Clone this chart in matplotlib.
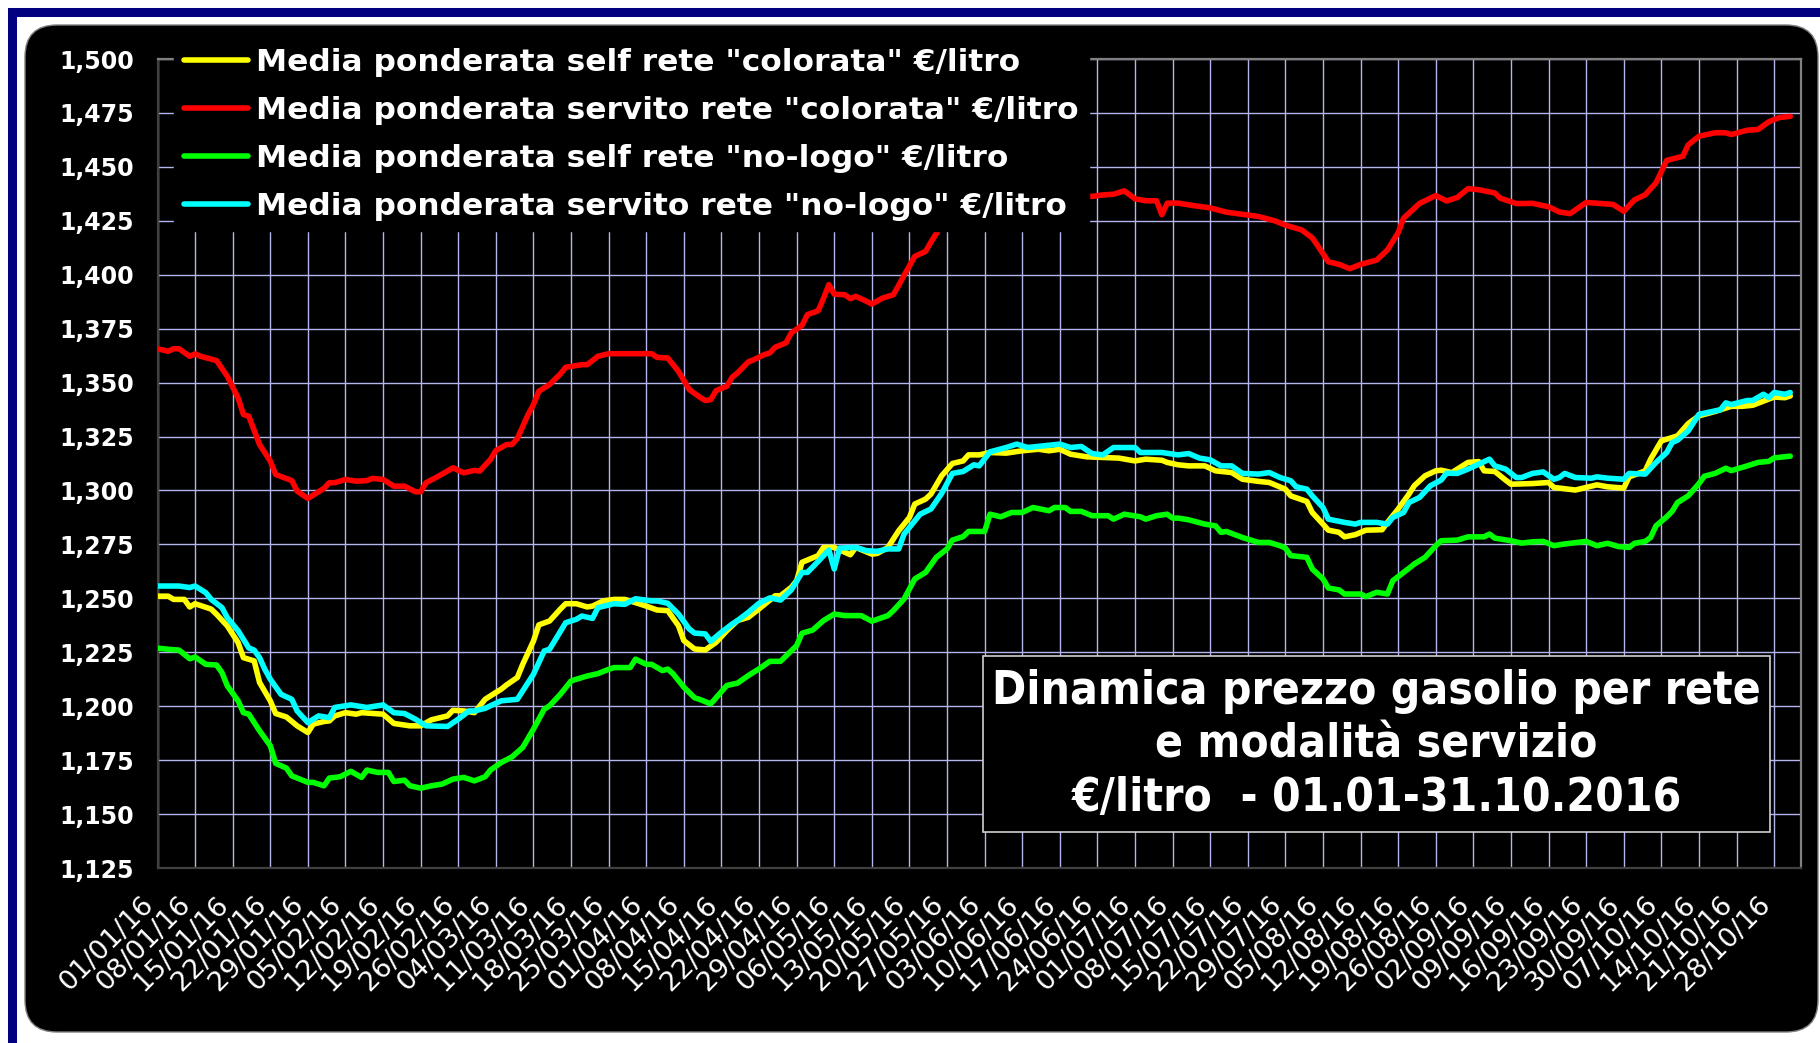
import matplotlib
matplotlib.use('Agg')
import matplotlib.pyplot as plt
import matplotlib.transforms as mtransforms
from matplotlib.patches import Rectangle, FancyBboxPatch
from datetime import datetime, timedelta

# giorni dal 01/01/2016 (0 = 01/01) e prezzi
self_col_days = [0, 2, 3, 5, 6, 7, 10, 11, 13, 15, 16, 18, 19, 21, 22, 24, 26, 28, 29, 31, 32, 33, 35, 37, 38, 42, 44, 47, 49, 51,
                 54, 55, 57, 59, 61, 62, 64, 65, 67, 68, 70, 71, 73, 75, 76, 78, 80, 81, 83, 85, 87, 89, 91, 93, 95, 97, 98, 100, 102, 104,
                 106, 108, 110, 112, 115, 116, 118, 119, 120, 123, 124, 126, 129, 130, 133, 134, 136, 138, 140, 141, 143, 144, 146, 148, 150, 151, 153, 155, 158, 161,
                 164, 166, 168, 170, 173, 176, 179, 182, 184, 187, 188, 190, 192, 195, 197, 200, 202, 205, 207, 210, 211, 214, 215, 217, 218, 220, 221, 223, 225, 228,
                 229, 231, 233, 234, 236, 238, 239, 241, 244, 246, 247, 249, 251, 252, 256, 259, 260, 264, 266, 268, 270, 273, 274, 277, 278, 280, 282, 283, 285, 287,
                 290, 292, 293, 295, 297, 299, 301, 303, 304]
self_col = [1.2510, 1.2510, 1.2495, 1.2495, 1.2460, 1.2475, 1.2450, 1.2426, 1.2372, 1.2295, 1.2225, 1.2210, 1.2110, 1.2025, 1.1966, 1.1950, 1.1909, 1.1878, 1.1917, 1.1929,
            1.1932, 1.1955, 1.1970, 1.1963, 1.1970, 1.1963, 1.1920, 1.1909, 1.1909, 1.1937, 1.1955, 1.1981, 1.1978, 1.1970, 1.2032, 1.2048, 1.2079, 1.2099, 1.2133, 1.2194,
            1.2302, 1.2377, 1.2395, 1.2450, 1.2475, 1.2475, 1.2460, 1.2464, 1.2488, 1.2495, 1.2495, 1.2480, 1.2464, 1.2446, 1.2443, 1.2373, 1.2304, 1.2265, 1.2261, 1.2296,
            1.2350, 1.2397, 1.2412, 1.2451, 1.2512, 1.2512, 1.2551, 1.2582, 1.2667, 1.2698, 1.2736, 1.2736, 1.2702, 1.2736, 1.2705, 1.2708, 1.2736, 1.2813, 1.2875, 1.2937,
            1.2960, 1.2983, 1.3068, 1.3125, 1.3137, 1.3165, 1.3165, 1.3176, 1.3173, 1.3184, 1.3191, 1.3184, 1.3191, 1.3168, 1.3156, 1.3153, 1.3150, 1.3137, 1.3145, 1.3140,
            1.3130, 1.3119, 1.3114, 1.3114, 1.3091, 1.3083, 1.3052, 1.3042, 1.3037, 1.3006, 1.2975, 1.2949, 1.2898, 1.2844, 1.2816, 1.2806, 1.2785, 1.2795, 1.2816, 1.2818,
            1.2852, 1.2914, 1.2983, 1.3022, 1.3068, 1.3091, 1.3094, 1.3083, 1.3130, 1.3134, 1.3091, 1.3088, 1.3048, 1.3029, 1.3032, 1.3037, 1.3014, 1.3002, 1.3014, 1.3026,
            1.3017, 1.3011, 1.3063, 1.3091, 1.3145, 1.3230, 1.3245, 1.3253, 1.3310, 1.3346, 1.3366, 1.3382, 1.3390, 1.3390, 1.3395, 1.3414, 1.3433, 1.3430, 1.3438]

serv_col_days = [0, 2, 3, 4, 6, 7, 8, 11, 13, 15, 16, 17, 19, 21, 22, 25, 26, 28, 30, 31, 32, 33, 35, 37, 39, 40, 42, 44, 46, 48,
                 49, 50, 52, 54, 55, 57, 59, 60, 62, 63, 65, 66, 67, 69, 70, 71, 73, 75, 76, 79, 80, 82, 84, 87, 92, 93, 95, 97, 99, 101,
                 102, 103, 104, 106, 107, 108, 110, 111, 113, 114, 115, 117, 118, 120, 121, 123, 124, 125, 126, 128, 129, 130, 132, 133, 135, 137, 138, 139, 141, 143,
                 144, 146, 148, 151, 153, 156, 158, 161, 164, 169, 171, 174, 176, 178, 180, 182, 184, 186, 187, 188, 190, 193, 196, 199, 202, 205, 208, 210, 213, 215,
                 216, 218, 220, 222, 224, 227, 229, 231, 232, 235, 238, 240, 242, 244, 246, 249, 250, 253, 254, 256, 259, 261, 263, 266, 271, 273, 275, 277, 279, 281,
                 284, 285, 287, 290, 292, 293, 296, 298, 300, 302, 304]
serv_col = [1.3657, 1.3645, 1.3657, 1.3657, 1.3622, 1.3633, 1.3622, 1.3602, 1.3529, 1.3429, 1.3352, 1.3344, 1.3213, 1.3136, 1.3074, 1.3046, 1.2997, 1.2963, 1.2994, 1.3010,
            1.3036, 1.3036, 1.3051, 1.3043, 1.3046, 1.3056, 1.3051, 1.3020, 1.3020, 1.2994, 1.2994, 1.3036, 1.3062, 1.3090, 1.3105, 1.3082, 1.3093, 1.3090, 1.3144, 1.3185,
            1.3213, 1.3213, 1.3241, 1.3352, 1.3398, 1.3460, 1.3491, 1.3540, 1.3571, 1.3583, 1.3583, 1.3622, 1.3634, 1.3634, 1.3634, 1.3617, 1.3614, 1.3552, 1.3468, 1.3432,
            1.3417, 1.3421, 1.3463, 1.3483, 1.3525, 1.3545, 1.3596, 1.3606, 1.3630, 1.3637, 1.3664, 1.3684, 1.3730, 1.3765, 1.3815, 1.3833, 1.3890, 1.3954, 1.3910, 1.3907,
            1.3889, 1.3900, 1.3877, 1.3864, 1.3892, 1.3907, 1.3951, 1.3997, 1.4085, 1.4108, 1.4151, 1.4231, 1.4285, 1.4332, 1.4340, 1.4355, 1.4367, 1.4383, 1.4394, 1.4389,
            1.4373, 1.4363, 1.4370, 1.4373, 1.4389, 1.4352, 1.4343, 1.4343, 1.4278, 1.4332, 1.4332, 1.4320, 1.4310, 1.4290, 1.4280, 1.4270, 1.4250, 1.4230, 1.4208, 1.4171,
            1.4135, 1.4060, 1.4048, 1.4028, 1.4048, 1.4068, 1.4115, 1.4195, 1.4262, 1.4331, 1.4367, 1.4342, 1.4358, 1.4399, 1.4394, 1.4379, 1.4355, 1.4330, 1.4330, 1.4331,
            1.4315, 1.4291, 1.4283, 1.4335, 1.4326, 1.4294, 1.4347, 1.4371, 1.4426, 1.4530, 1.4549, 1.4602, 1.4642, 1.4658, 1.4658, 1.4650, 1.4670, 1.4673, 1.4709, 1.4729,
            1.4734]

self_nl_days = [0, 2, 4, 6, 7, 9, 11, 12, 13, 15, 16, 17, 19, 21, 22, 24, 25, 28, 29, 31, 32, 34, 36, 38, 39, 41, 43, 44, 46, 47,
                49, 51, 53, 55, 57, 59, 61, 62, 64, 66, 68, 70, 72, 73, 75, 77, 78, 80, 82, 84, 85, 88, 89, 91, 92, 94, 95, 96, 98, 100,
                101, 103, 104, 106, 108, 110, 112, 114, 116, 119, 120, 122, 124, 126, 128, 131, 133, 136, 137, 139, 141, 143, 145, 147, 148, 150, 151, 154, 155, 157,
                159, 161, 163, 166, 167, 169, 170, 172, 174, 177, 178, 180, 183, 184, 186, 188, 189, 190, 192, 195, 197, 198, 199, 202, 205, 207, 209, 210, 211, 214,
                215, 217, 218, 220, 221, 224, 225, 227, 229, 230, 233, 234, 236, 238, 239, 242, 244, 247, 248, 249, 252, 254, 256, 258, 260, 262, 266, 268, 270, 272,
                274, 275, 277, 278, 279, 281, 282, 283, 285, 287, 288, 290, 292, 293, 296, 298, 300, 301, 304]
self_nl = [1.2269, 1.2264, 1.2260, 1.2220, 1.2228, 1.2194, 1.2191, 1.2156, 1.2094, 1.2025, 1.1970, 1.1963, 1.1886, 1.1817, 1.1735, 1.1713, 1.1677, 1.1647, 1.1647, 1.1631,
           1.1667, 1.1673, 1.1698, 1.1670, 1.1704, 1.1693, 1.1693, 1.1651, 1.1657, 1.1631, 1.1620, 1.1631, 1.1639, 1.1662, 1.1670, 1.1654, 1.1673, 1.1704, 1.1739, 1.1765,
           1.1809, 1.1894, 1.1986, 1.2002, 1.2055, 1.2117, 1.2125, 1.2140, 1.2151, 1.2171, 1.2179, 1.2179, 1.2218, 1.2194, 1.2194, 1.2165, 1.2172, 1.2150, 1.2088, 1.2039,
           1.2031, 1.2011, 1.2039, 1.2096, 1.2107, 1.2142, 1.2173, 1.2208, 1.2208, 1.2281, 1.2338, 1.2353, 1.2397, 1.2427, 1.2420, 1.2420, 1.2394, 1.2420, 1.2443, 1.2497,
           1.2590, 1.2620, 1.2690, 1.2729, 1.2770, 1.2786, 1.2810, 1.2810, 1.2890, 1.2878, 1.2898, 1.2898, 1.2921, 1.2906, 1.2921, 1.2921, 1.2903, 1.2903, 1.2883, 1.2883,
           1.2867, 1.2890, 1.2878, 1.2867, 1.2883, 1.2890, 1.2872, 1.2872, 1.2864, 1.2844, 1.2836, 1.2806, 1.2810, 1.2782, 1.2759, 1.2759, 1.2744, 1.2733, 1.2698, 1.2690,
           1.2636, 1.2590, 1.2548, 1.2539, 1.2520, 1.2520, 1.2508, 1.2528, 1.2520, 1.2582, 1.2639, 1.2659, 1.2690, 1.2744, 1.2767, 1.2770, 1.2785, 1.2785, 1.2798, 1.2779,
           1.2767, 1.2756, 1.2762, 1.2764, 1.2744, 1.2752, 1.2764, 1.2744, 1.2755, 1.2740, 1.2736, 1.2755, 1.2764, 1.2782, 1.2836, 1.2878, 1.2903, 1.2944, 1.2975, 1.3032,
           1.3066, 1.3079, 1.3103, 1.3092, 1.3114, 1.3130, 1.3135, 1.3151, 1.3159]

serv_nl_days = [0, 4, 6, 7, 9, 10, 12, 13, 15, 17, 18, 19, 20, 21, 23, 25, 26, 28, 30, 32, 33, 36, 39, 42, 44, 46, 48, 50, 54, 56,
                58, 59, 61, 62, 64, 67, 68, 70, 72, 73, 76, 78, 79, 81, 82, 85, 87, 89, 92, 93, 95, 97, 99, 100, 102, 103, 105, 107, 108, 110,
                112, 114, 116, 118, 120, 121, 123, 125, 126, 127, 130, 132, 134, 136, 138, 139, 142, 144, 146, 148, 150, 152, 153, 155, 158, 160, 162, 165, 168, 170,
                172, 174, 176, 178, 182, 183, 187, 190, 192, 194, 196, 198, 200, 202, 205, 207, 209, 211, 212, 214, 215, 217, 218, 221, 223, 224, 227, 229, 230, 232,
                233, 235, 237, 239, 240, 242, 244, 246, 248, 249, 251, 253, 254, 256, 258, 260, 261, 262, 264, 267, 268, 270, 273, 274, 277, 279, 281, 282, 283, 285,
                287, 290, 291, 292, 293, 296, 297, 299, 300, 301, 303, 304]
serv_nl = [1.2557, 1.2557, 1.2550, 1.2557, 1.2526, 1.2495, 1.2457, 1.2410, 1.2350, 1.2270, 1.2260, 1.2225, 1.2170, 1.2125, 1.2055, 1.2032, 1.1978, 1.1924, 1.1955, 1.1947,
           1.1994, 1.2006, 1.1994, 1.2006, 1.1970, 1.1966, 1.1940, 1.1909, 1.1906, 1.1940, 1.1978, 1.1978, 1.1990, 1.2002, 1.2025, 1.2032, 1.2071, 1.2148, 1.2256, 1.2264,
           1.2387, 1.2403, 1.2418, 1.2407, 1.2457, 1.2475, 1.2472, 1.2498, 1.2488, 1.2488, 1.2477, 1.2427, 1.2358, 1.2339, 1.2335, 1.2301, 1.2343, 1.2381, 1.2397, 1.2435,
           1.2477, 1.2502, 1.2492, 1.2539, 1.2620, 1.2620, 1.2671, 1.2724, 1.2636, 1.2733, 1.2736, 1.2721, 1.2718, 1.2729, 1.2729, 1.2798, 1.2890, 1.2914, 1.2986, 1.3079,
           1.3088, 1.3119, 1.3114, 1.3179, 1.3199, 1.3215, 1.3199, 1.3207, 1.3215, 1.3199, 1.3204, 1.3171, 1.3165, 1.3199, 1.3199, 1.3176, 1.3176, 1.3165, 1.3171, 1.3150,
           1.3142, 1.3114, 1.3114, 1.3079, 1.3076, 1.3083, 1.3060, 1.3045, 1.3017, 1.3006, 1.2975, 1.2921, 1.2867, 1.2852, 1.2844, 1.2852, 1.2852, 1.2844, 1.2875, 1.2898,
           1.2944, 1.2968, 1.3022, 1.3048, 1.3080, 1.3079, 1.3099, 1.3122, 1.3145, 1.3114, 1.3099, 1.3060, 1.3060, 1.3079, 1.3086, 1.3052, 1.3060, 1.3079, 1.3060, 1.3057,
           1.3063, 1.3057, 1.3052, 1.3079, 1.3076, 1.3130, 1.3176, 1.3222, 1.3233, 1.3276, 1.3353, 1.3369, 1.3374, 1.3406, 1.3398, 1.3417, 1.3417, 1.3446, 1.3430, 1.3454,
           1.3446, 1.3454]

labels = ['Media ponderata self rete "colorata" €/litro',
          'Media ponderata servito rete "colorata" €/litro',
          'Media ponderata self rete "no-logo" €/litro',
          'Media ponderata servito rete "no-logo" €/litro']
colors = ['#ffff00', '#ff0000', '#00ff00', '#00ffff']

start = datetime(2016, 1, 1)
tick_days = list(range(0, 302, 7))
tick_labels = [(start + timedelta(days=d)).strftime('%d/%m/%y') for d in tick_days]
y_ticks = [1.125 + 0.025 * i for i in range(16)]

W, H = 1820, 1043
fig = plt.figure(figsize=(W / 100, H / 100), dpi=100, facecolor='white')

# cornice blu (sopra e a sinistra) e sfondo nero arrotondato
fig.patches.append(Rectangle((11.5, -2.5), 2000, H - 9, transform=None,
                             fill=False, edgecolor='#000080', linewidth=6.5, zorder=-3))
fig.patches.append(FancyBboxPatch((0.25, 0.11), 17.93, 10.07, boxstyle='round,pad=0,rounding_size=0.32',
                                  transform=fig.dpi_scale_trans, facecolor='black',
                                  edgecolor='#7f7f7f', linewidth=1.0, zorder=-2))

ax = fig.add_axes([157.5 / W, (H - 868) / H, (1801 - 157.5) / W, (868 - 59) / H])
ax.set_facecolor('black')

series = [(self_col_days, self_col), (serv_col_days, serv_col),
          (self_nl_days, self_nl), (serv_nl_days, serv_nl)]
for (dd, vv), lab, col in zip(series, labels, colors):
    ax.plot(dd, vv, color=col, linewidth=4.0, label=lab,
            solid_joinstyle='round', solid_capstyle='round', zorder=3)

ax.set_xlim(0, 306)
ax.set_ylim(1.125, 1.500)
ax.set_yticks(y_ticks)
ax.set_yticklabels([('%.3f' % v).replace('.', ',') for v in y_ticks])
ax.set_xticks(tick_days)
ax.set_xticklabels(tick_labels)
ax.grid(True, color='#b4b4ee', linewidth=1.0, zorder=1)
ax.set_axisbelow(True)

ax.tick_params(axis='y', length=0, pad=17, labelsize=17, labelcolor='white')
ax.tick_params(axis='x', length=0, pad=17, labelsize=19.5, labelcolor='white')
for t in ax.get_yticklabels():
    t.set_fontweight('bold')
offset = mtransforms.ScaledTranslation(-17 / 100, 0, fig.dpi_scale_trans)
for t in ax.get_xticklabels():
    t.set_rotation(45)
    t.set_ha('right')
    t.set_va('top')
    t.set_rotation_mode('anchor')
    t.set_transform(t.get_transform() + offset)

for side in ['left', 'bottom']:
    ax.spines[side].set_color('#404040')
    ax.spines[side].set_linewidth(1.6)
for side in ['top', 'right']:
    ax.spines[side].set_color('#808080')
    ax.spines[side].set_linewidth(1.6)

leg = ax.legend(loc='upper left', bbox_to_anchor=(174 / W, (H - 38) / H),
                bbox_transform=fig.transFigure, borderaxespad=0, borderpad=0.32,
                frameon=True, facecolor='black', edgecolor='black', framealpha=1,
                fancybox=False, handlelength=2.05, handletextpad=0.26, labelspacing=0.61,
                prop={'weight': 'bold', 'size': 22.5})
for txt in leg.get_texts():
    txt.set_color('white')
for h in leg.get_lines():
    h.set_linewidth(4.0)
leg.set_zorder(6)

# riquadro titolo
ax.add_patch(Rectangle((983 / W, (H - 832) / H), 787 / W, 176 / H, transform=fig.transFigure,
                       facecolor='black', edgecolor='#d0d0d0', linewidth=1.2, zorder=6, clip_on=False))
ax.text(1376.5 / W, (H - 745) / H,
        'Dinamica prezzo gasolio per rete\ne modalità servizio\n€/litro  - 01.01-31.10.2016',
        transform=fig.transFigure, ha='center', va='center', color='white', fontsize=33,
        fontweight='bold', family='DejaVu Sans', fontstretch='condensed',
        linespacing=1.23, zorder=7)

fig.savefig('out.png', dpi=100, facecolor='white')
